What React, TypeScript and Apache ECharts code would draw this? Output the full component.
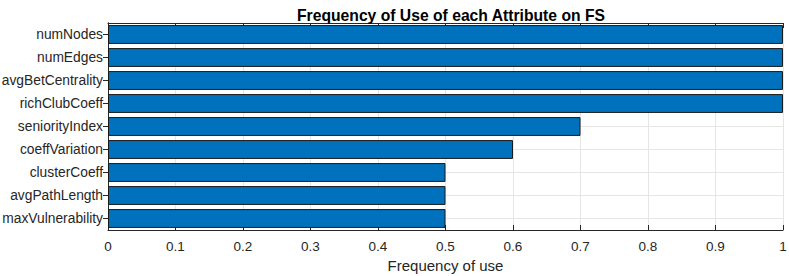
import React, { useEffect, useRef } from "react";
import * as echarts from "echarts";

const categories = [
  "numNodes",
  "numEdges",
  "avgBetCentrality",
  "richClubCoeff",
  "seniorityIndex",
  "coeffVariation",
  "clusterCoeff",
  "avgPathLength",
  "maxVulnerability",
];
const values = [1, 1, 1, 1, 0.7, 0.6, 0.5, 0.5, 0.5];
const titleText = "Frequency of Use of each Attribute on FS";
const xLabel = "Frequency of use";

export default function App() {
  const ref = useRef<HTMLDivElement>(null);
  useEffect(() => {
    const chart = echarts.init(ref.current!, null, { renderer: "svg" });
    const axisColor = "#262626";
    const font = "Liberation Sans";
    const gridColor = "#e6e6e6";
    chart.setOption({
      animation: false,
      title: {
        text: titleText,
        left: 446,
        textAlign: "center",
        top: 2,
        textStyle: { fontFamily: font, fontSize: 15.7, fontWeight: "bold", color: "#000" },
      },
      grid: {
        left: 108,
        right: 6,
        top: 23,
        bottom: 46,
        containLabel: false,
        outerBoundsMode: "none",
      },
      xAxis: [
        {
          type: "value",
          min: 0,
          max: 1,
          interval: 0.1,
          position: "bottom",
          name: xLabel,
          nameLocation: "middle",
          nameGap: 25,
          nameTextStyle: { fontFamily: font, fontSize: 15, color: axisColor },
          axisLine: { show: true, lineStyle: { color: axisColor, width: 1 } },
          axisTick: { show: true, inside: true, length: 5, lineStyle: { color: axisColor } },
          axisLabel: {
            fontFamily: font,
            fontSize: 13.5,
            color: axisColor,
            margin: 9,
            formatter: (v: number) => String(Math.round(v * 10) / 10),
          },
          splitLine: { show: true, lineStyle: { color: gridColor, width: 1 } },
        },
        {
          type: "value",
          min: 0,
          max: 1,
          interval: 0.1,
          position: "top",
          axisLine: { show: true, lineStyle: { color: axisColor, width: 1 } },
          axisTick: { show: true, inside: true, length: 5, lineStyle: { color: axisColor } },
          axisLabel: { show: false },
          splitLine: { show: false },
        },
      ],
      yAxis: [
        {
          type: "category",
          data: categories,
          inverse: true,
          position: "left",
          axisLine: { show: true, lineStyle: { color: axisColor, width: 1 } },
          axisTick: {
            show: true,
            inside: true,
            length: 5,
            alignWithLabel: true,
            lineStyle: { color: axisColor },
          },
          axisLabel: { fontFamily: font, fontSize: 13.8, color: axisColor, margin: 5 },
          splitLine: {
            show: true,
            alignWithLabel: true,
            lineStyle: { color: gridColor, width: 1 },
          },
        },
        {
          type: "category",
          data: categories,
          inverse: true,
          position: "right",
          axisLine: { show: true, lineStyle: { color: axisColor, width: 1 } },
          axisTick: {
            show: true,
            inside: true,
            length: 5,
            alignWithLabel: true,
            lineStyle: { color: axisColor },
          },
          axisLabel: { show: false },
          splitLine: { show: false },
        },
      ],
      series: [
        {
          type: "bar",
          xAxisIndex: 0,
          yAxisIndex: 0,
          data: values,
          barWidth: "82%",
          itemStyle: { color: "#0072BD", borderColor: "#1a1a1a", borderWidth: 1 },
          z: 1,
        },
      ],
    });
    return () => chart.dispose();
  }, []);
  return (
    <div
      ref={ref}
      style={{ position: "absolute", left: 0, top: 0, width: 789, height: 276 }}
    />
  );
}
